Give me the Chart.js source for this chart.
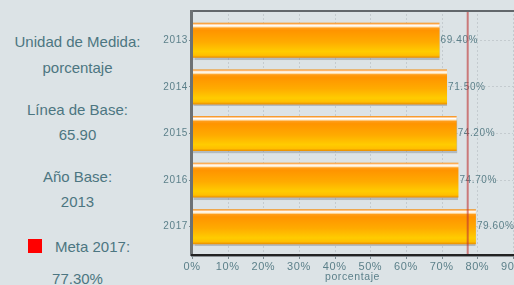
<!DOCTYPE html>
<html lang="es">
<head>
    <meta charset="UTF-8">
    <title>Indicador porcentaje</title>
    <script src="https://cdn.jsdelivr.net/npm/chart.js"></script>
    <style>
        html, body {
            margin: 0;
            padding: 0;
            width: 514px;
            height: 285px;
            overflow: hidden;
            background: #dce3e6;
            font-family: "Liberation Sans", Arial, sans-serif;
        }
        .info {
            position: absolute;
            left: 0;
            width: 155px;
            text-align: center;
            font-size: 15px;
            line-height: 15px;
            color: #4c7681;
            white-space: nowrap;
        }
        .marca {
            position: absolute;
            left: 28px;
            top: 239px;
            width: 14px;
            height: 14px;
            background: #ff0000;
        }
        #wrap {
            position: absolute;
            left: 0;
            top: 0;
            width: 580px;
            height: 285px;
        }
    </style>
</head>
<body>
    <div class="info" style="top:34px">Unidad de Medida:</div>
    <div class="info" style="top:60px">porcentaje</div>
    <div class="info" style="top:102px">Línea de Base:</div>
    <div class="info" style="top:127px">65.90</div>
    <div class="info" style="top:169px">Año Base:</div>
    <div class="info" style="top:194px">2013</div>
    <div class="marca"></div>
    <div class="info" style="top:239px;left:55px;width:auto">Meta 2017:</div>
    <div class="info" style="top:271px">77.30%</div>

    <div id="wrap"><canvas id="grafico"></canvas></div>

    <script>
        // datos del indicador
        const anios = ['2013', '2014', '2015', '2016', '2017'];
        const valores = [69.4, 71.5, 74.2, 74.7, 79.6];
        const meta = 77.3;
        const ticksX = [0, 10, 20, 30, 40, 50, 60, 70, 80, 90];

        const colorTexto = '#5c808a';
        const barPct = 0.75;

        function degradado(c) {
            const ch = c.chart;
            const ys = ch.scales.y;
            if (!ch.chartArea || !ys) return '#ff9900';
            const yc = ys.getPixelForValue(c.dataIndex);
            const h = ys.height / anios.length * barPct;
            const g = ch.ctx.createLinearGradient(0, yc - h / 2, 0, yc + h / 2);
            g.addColorStop(0, '#f08800');
            g.addColorStop(0.03, '#ffb466');
            g.addColorStop(0.07, '#ffffff');
            g.addColorStop(0.11, '#ffe9c4');
            g.addColorStop(0.15, '#ff9d1a');
            g.addColorStop(0.22, '#ff9400');
            g.addColorStop(0.55, '#ffab00');
            g.addColorStop(0.82, '#ffcc00');
            g.addColorStop(0.93, '#ffbf00');
            g.addColorStop(1, '#e88a00');
            return g;
        }

        const marco = {
            id: 'marco',
            beforeDraw(chart) {
                chart.ctx.letterSpacing = '0.6px';
            },
            beforeDatasetsDraw(chart) {
                const ctx = chart.ctx;
                const a = chart.chartArea;
                const xs = chart.scales.x;
                ctx.save();
                ctx.strokeStyle = '#c4cbcf';
                ctx.lineWidth = 1;
                ctx.setLineDash([2, 2]);
                ticksX.forEach(function(t) {
                    if (t === 0) return;
                    const x = Math.round(xs.getPixelForValue(t)) + 0.5;
                    ctx.beginPath();
                    ctx.moveTo(x, a.top - 7);
                    ctx.lineTo(x, a.bottom + 5);
                    ctx.stroke();
                });
                ctx.restore();
                // sombra de las barras
                ctx.save();
                ctx.shadowColor = 'rgba(100,110,120,0.35)';
                ctx.shadowOffsetY = 2;
                ctx.shadowBlur = 1;
            },
            afterDatasetsDraw(chart) {
                const ctx = chart.ctx;
                ctx.restore();
                const a = chart.chartArea;
                const xs = chart.scales.x;
                const meta0 = chart.getDatasetMeta(0);

                // etiquetas de valor
                ctx.save();
                ctx.font = '10px "Liberation Sans", Arial, sans-serif';
                ctx.fillStyle = colorTexto;
                ctx.textBaseline = 'middle';
                ctx.textAlign = 'left';
                meta0.data.forEach(function(bar, i) {
                    ctx.fillText(valores[i].toFixed(2) + '%', bar.x + 1, bar.y);
                });
                ctx.restore();

                // linea de meta
                ctx.save();
                const xm = xs.getPixelForValue(meta);
                ctx.strokeStyle = 'rgba(190,50,50,0.6)';
                ctx.lineWidth = 2;
                ctx.beginPath();
                ctx.moveTo(xm, a.top - 7);
                ctx.lineTo(xm, a.bottom + 5);
                ctx.stroke();
                ctx.restore();

                // ejes
                ctx.save();
                const x0 = xs.getPixelForValue(0);
                ctx.fillStyle = '#62676b';
                ctx.fillRect(x0 - 1, a.top - 7, chart.width, 2);
                ctx.fillStyle = '#6c7174';
                ctx.fillRect(x0 - 2, a.top - 7, 3, a.bottom - a.top + 13);
                ctx.fillStyle = '#8a9094';
                ctx.fillRect(x0 - 1, a.bottom + 6, chart.width, 1);
                ctx.fillStyle = '#222222';
                ctx.fillRect(x0 - 1, a.bottom + 4, chart.width, 2);
                ctx.fillStyle = '#7c8a90';
                ticksX.forEach(function(t) {
                    const x = Math.round(xs.getPixelForValue(t));
                    ctx.fillRect(x, a.bottom + 6, 1, 3);
                });
                ctx.restore();
            }
        };

        new Chart(document.getElementById('grafico'), {
            type: 'bar',
            data: {
                labels: anios,
                datasets: [{
                    data: valores,
                    backgroundColor: degradado,
                    borderWidth: 0,
                    barPercentage: barPct,
                    categoryPercentage: 1
                }]
            },
            options: {
                indexAxis: 'y',
                responsive: true,
                maintainAspectRatio: false,
                animation: false,
                events: [],
                layout: {
                    padding: { top: 17, right: 67, left: 0, bottom: 0 }
                },
                plugins: {
                    legend: { display: false },
                    tooltip: { enabled: false }
                },
                scales: {
                    x: {
                        min: 0,
                        max: 90,
                        afterBuildTicks(scale) {
                            scale.ticks = ticksX.map(v => ({ value: v }));
                        },
                        afterFit(scale) {
                            scale.height = 35;
                            scale.paddingLeft = 0;
                            scale.paddingRight = 0;
                        },
                        border: { display: false },
                        grid: { display: false },
                        ticks: {
                            color: colorTexto,
                            padding: 2,
                            font: { family: '"Liberation Sans", Arial, sans-serif', size: 11 },
                            callback: v => v + '%'
                        },
                        title: {
                            display: true,
                            text: 'porcentaje',
                            color: colorTexto,
                            padding: { top: 0, bottom: 2 },
                            font: { family: '"Liberation Sans", Arial, sans-serif', size: 10.5 }
                        }
                    },
                    y: {
                        afterFit(scale) {
                            scale.width = 192;
                            scale.paddingTop = 0;
                            scale.paddingBottom = 0;
                        },
                        border: { display: false, dash: [2, 2] },
                        grid: {
                            offset: false,
                            color: '#c4cbcf',
                            tickColor: '#7c8a90',
                            tickLength: 3
                        },
                        ticks: {
                            color: colorTexto,
                            padding: 1,
                            font: { family: '"Liberation Sans", Arial, sans-serif', size: 10 }
                        }
                    }
                }
            },
            plugins: [marco]
        });
    </script>
</body>
</html>
